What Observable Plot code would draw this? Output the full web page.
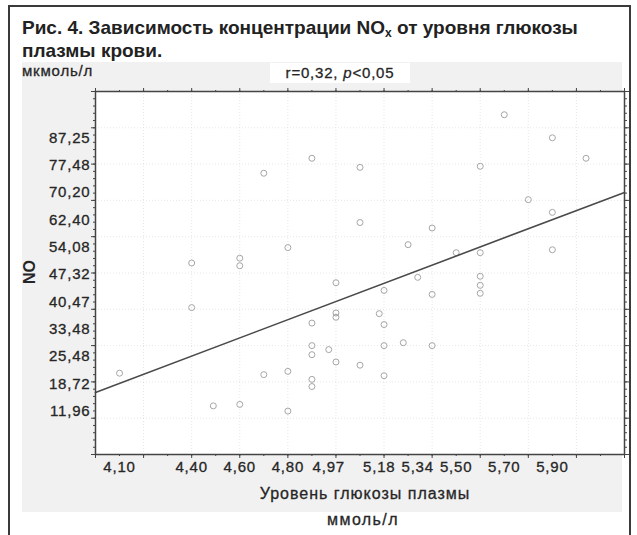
<!DOCTYPE html>
<html><head><meta charset="utf-8">
<script src="https://cdn.jsdelivr.net/npm/d3@7"></script>
<script src="https://cdn.jsdelivr.net/npm/@observablehq/plot@0.6"></script>
<style>
body{margin:0;background:#fff;}
#fig{position:relative;width:637px;height:535px;overflow:hidden;font-family:"Liberation Sans",Arial,Helvetica,sans-serif;color:#262626;}
#border{position:absolute;left:8px;top:5px;width:619px;height:560px;border:2px solid #3a3a3a;box-sizing:content-box;}
#panel{position:absolute;left:22px;top:62px;width:600px;height:450px;background:#f1f1f1;}
.t{position:absolute;white-space:nowrap;-webkit-text-stroke:0.3px #262626;}
#title{left:22px;top:16px;font-weight:bold;font-size:19px;line-height:23px;color:#222;-webkit-text-stroke:0;}
#title sub{font-size:12px;vertical-align:-3px;line-height:0;}
#unitY{left:22px;top:62px;font-size:15px;letter-spacing:0.8px;}
#stat{left:270px;top:63px;width:140px;height:20px;background:#fff;text-align:center;font-size:15px;line-height:20px;letter-spacing:0.8px;}
#ylab{left:30px;top:272px;font-weight:bold;font-size:16px;transform:translate(-50%,-50%) rotate(-90deg);-webkit-text-stroke:0;}
#xlab{left:365px;top:485px;font-size:16px;letter-spacing:1px;transform:translateX(-50%);}
#xunit{left:363px;top:511px;font-size:16px;letter-spacing:1.4px;transform:translateX(-50%);}
#chart{position:absolute;left:0;top:0;}
#chart svg text{letter-spacing:0.8px;stroke:#262626;stroke-width:0.3px;}
</style>
</head><body>
<div id="fig">
  <div id="border"></div>
  <div id="panel"></div>
  <div class="t" id="title">Рис. 4. Зависимость концентрации NO<sub>x</sub> от уровня глюкозы<br>плазмы крови.</div>
  <div id="chart"></div>
  <div class="t" id="unitY">мкмоль/л</div>
  <div class="t" id="stat">r=0,32, <i>p</i>&lt;0,05</div>
  <div class="t" id="ylab">NO</div>
  <div class="t" id="xlab">Уровень глюкозы плазмы</div>
  <div class="t" id="xunit">ммоль/л</div>
</div>
<script>
// Glucose (mmol/l) and NOx (µmol/l) values
const glucose = [4.10, 4.40, 4.40, 4.49, 4.60, 4.60, 4.60, 4.70, 4.70, 4.80,
  4.80, 4.80, 4.90, 4.90, 4.90, 4.90, 4.90, 4.90, 4.97, 5.00,
  5.00, 5.00, 5.00, 5.10, 5.10, 5.10, 5.18, 5.20, 5.20, 5.20,
  5.20, 5.28, 5.30, 5.34, 5.40, 5.40, 5.40, 5.50, 5.60, 5.60,
  5.60, 5.60, 5.60, 5.70, 5.80, 5.90, 5.90, 5.90, 6.04];
const nox = [22.4, 52.75, 40.47, 13.4, 54.08, 52.0, 13.8, 77.48, 22.0, 57.0,
  22.9, 11.96, 81.6, 36.2, 30.0, 27.5, 20.7, 18.72, 28.9, 47.32,
  39.0, 37.8, 25.48, 79.1, 63.9, 24.6, 38.8, 45.2, 35.8, 30.0,
  21.7, 30.8, 57.8, 48.8, 62.40, 44.1, 30.0, 55.6, 79.4, 55.6,
  49.1, 46.6, 44.4, 93.6, 70.20, 87.25, 66.7, 56.4, 81.6];
// Regression line end points read at the frame edges
const fitX = [4.0, 6.2];
const fitY = [17.1, 72.2];
// Tick labels as printed
const xTickLabels = [4.10, 4.40, 4.60, 4.80, 4.97, 5.18, 5.34, 5.50, 5.70, 5.90];
const yTickLabels = [87.25, 77.48, 70.20, 62.40, 54.08, 47.32, 40.47, 33.48, 25.48, 18.72, 11.96];

const xDomain = [4.0, 6.2];
const yDomain = [0, 100];

const pts = glucose.map((g, i) => ({g, n: nox[i]}));
const fit = fitX.map((x, i) => ({x, y: fitY[i]}));
const fmt = d => d.toFixed(2).replace(".", ",");
// printed y labels are evenly spaced across the labelled range
const yLab = yTickLabels.map((v, i) => ({v,
  pos: yTickLabels[0] + (yTickLabels[yTickLabels.length - 1] - yTickLabels[0]) * i / (yTickLabels.length - 1)}));

const xMajor = d3.ticks(xDomain[0], xDomain[1], 11);
const xMinor = d3.ticks(xDomain[0], xDomain[1], 22);
const yMajor = d3.ticks(yDomain[0], yDomain[1], 10);
const yMinor = d3.ticks(yDomain[0], yDomain[1], 50);
const blank = () => "";

const chart = Plot.plot({
  width: 637, height: 535,
  marginLeft: 95, marginRight: 13, marginTop: 91, marginBottom: 81,
  x: {domain: xDomain},
  y: {domain: yDomain},
  style: {background: "transparent", fontFamily: "'Liberation Sans', Arial, sans-serif", color: "#262626", overflow: "visible"},
  marks: [
    Plot.frame({fill: "white"}),
    Plot.gridX(xMajor.slice(1, -1), {stroke: "#cfcfcf", strokeOpacity: 0.5, strokeDasharray: "1,2"}),
    Plot.gridY(yMajor.slice(1, -1), {stroke: "#cfcfcf", strokeOpacity: 0.5, strokeDasharray: "1,2"}),
    Plot.axisX(xMinor, {anchor: "bottom", tickSize: 2, tickFormat: blank, label: null, stroke: "#444"}),
    Plot.axisX(xMajor, {anchor: "bottom", tickSize: 4, tickFormat: blank, label: null, stroke: "#444"}),
    Plot.axisX(xMinor, {anchor: "top", tickSize: 2, tickFormat: blank, label: null, stroke: "#444"}),
    Plot.axisX(xMajor, {anchor: "top", tickSize: 4, tickFormat: blank, label: null, stroke: "#444"}),
    Plot.axisY(yMinor, {anchor: "left", tickSize: 2, tickFormat: blank, label: null, stroke: "#444"}),
    Plot.axisY(yMajor, {anchor: "left", tickSize: 4, tickFormat: blank, label: null, stroke: "#444"}),
    Plot.axisY(yMinor, {anchor: "right", tickSize: 2, tickFormat: blank, label: null, stroke: "#444"}),
    Plot.axisY(yMajor, {anchor: "right", tickSize: 4, tickFormat: blank, label: null, stroke: "#444"}),
    Plot.axisX(xTickLabels, {anchor: "bottom", tickSize: 0, tickPadding: 7, tickFormat: fmt, label: null, fontSize: 15, fill: "#262626"}),
    Plot.text(yLab, {y: "pos", text: d => fmt(d.v), frameAnchor: "left", textAnchor: "end", dx: -5, fontSize: 15, fill: "#262626"}),
    Plot.dot(pts, {x: "g", y: "n", r: 3, stroke: "#a6a6a6", strokeWidth: 1, fill: "none"}),
    Plot.line(fit, {x: "x", y: "y", stroke: "#4a4a4a", strokeWidth: 1.6}),
    Plot.frame({stroke: "#444", strokeWidth: 1.5})
  ]
});
document.getElementById("chart").appendChild(chart);
</script>
</body></html>
